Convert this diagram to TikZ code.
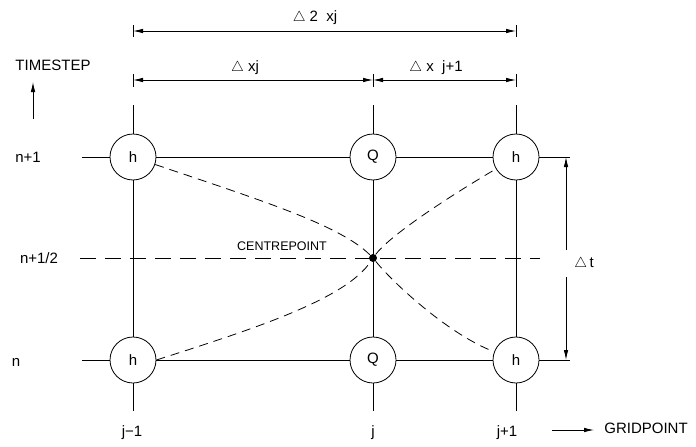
\documentclass[tikz,border=0pt]{standalone}
\usepackage{fontspec}
\setmainfont{Liberation Sans}
\usetikzlibrary{arrows.meta}

\begin{document}
\begin{tikzpicture}[x=1pt,y=-1pt,line width=0.8pt,
  every node/.style={font=\fontsize{15}{17}\selectfont},
  gridpt/.style={circle,draw,fill=white,minimum size=46pt,inner sep=0pt},
  dimtip/.style={-{Latex[length=10pt,width=4.5pt]}},
  dimboth/.style={{Latex[length=10pt,width=4.5pt]}-{Latex[length=10pt,width=4.5pt]}}]
  \useasboundingbox (0,0) rectangle (696,447);
  \node[gridpt] (h1) at (133,157) {h};
  \node[gridpt] (q1) at (373,157) {Q};
  \node[gridpt] (h2) at (516,157) {h};
  \node[gridpt] (h3) at (133,360) {h};
  \node[gridpt] (q2) at (373,360) {Q};
  \node[gridpt] (h4) at (516,360) {h};
  \foreach \x/\up/\down in {133/h1/h3,373/q1/q2,516/h2/h4}
    \draw (\x,105) -- (\up) -- (\down) -- (\x,411);
  \draw (82,157) -- (h1) -- (q1) -- (h2) -- (570,157);
  \draw (82,360) -- (h3) -- (q2) -- (h4) -- (570,360);
  \draw[dash pattern=on 16pt off 9pt] (80,258) -- (540,258);
  \node[circle,fill,inner sep=0pt,minimum size=8pt] (c) at (373,258) {};
  \draw[dash pattern=on 9pt off 6pt]
    (h1) .. controls (260,200) and (340,225) .. (c)
    .. controls (395,285) and (450,335) .. (h4);
  \draw[dash pattern=on 9pt off 6pt]
    (h3.east) .. controls (250,330) and (345,300) .. (c)
    .. controls (388,238) and (435,205) .. (h2);
  \node[font=\fontsize{12.5}{14}\selectfont] (cp) at (282,246) {CENTREPOINT};
  % dimensions
  \foreach \x in {133,516}
    \draw (\x,25) -- (\x,37);
  \foreach \x in {133,373,516}
    \draw (\x,74) -- (\x,87);
  \draw[dimboth] (133,31) -- (516,31);
  \draw[dimboth] (133,80) -- (373,80);
  \draw[dimboth] (373,80) -- (516,80);
  \node (d2x) at (315,18) {$\triangle$ 2\ \ xj};
  \node (dx) at (245,68) {$\triangle$ xj};
  \node (dxp) at (436,68) {$\triangle$ x\ \ j+1};
  \draw[dimtip] (566,250) -- (566,157);
  \draw[dimtip] (566,277) -- (566,360);
  \node (dt) at (584,264) {$\triangle$\,t};
  % axis labels
  \node (ts) at (53,65) {TIMESTEP};
  \draw[dimtip] (33,119) -- (33,82);
  \node (r1) at (28,157) {n+1};
  \node (r2) at (39,258) {n+1/2};
  \node (r3) at (16,362) {n};
  \node (c1) at (132,433) {j−1};
  \node (c2) at (373,433) {j};
  \node (c3) at (507,433) {j+1};
  \draw[dimtip] (552,430) -- (594,430);
  \node (gp) at (646,428) {GRIDPOINT};
\end{tikzpicture}
\end{document}
